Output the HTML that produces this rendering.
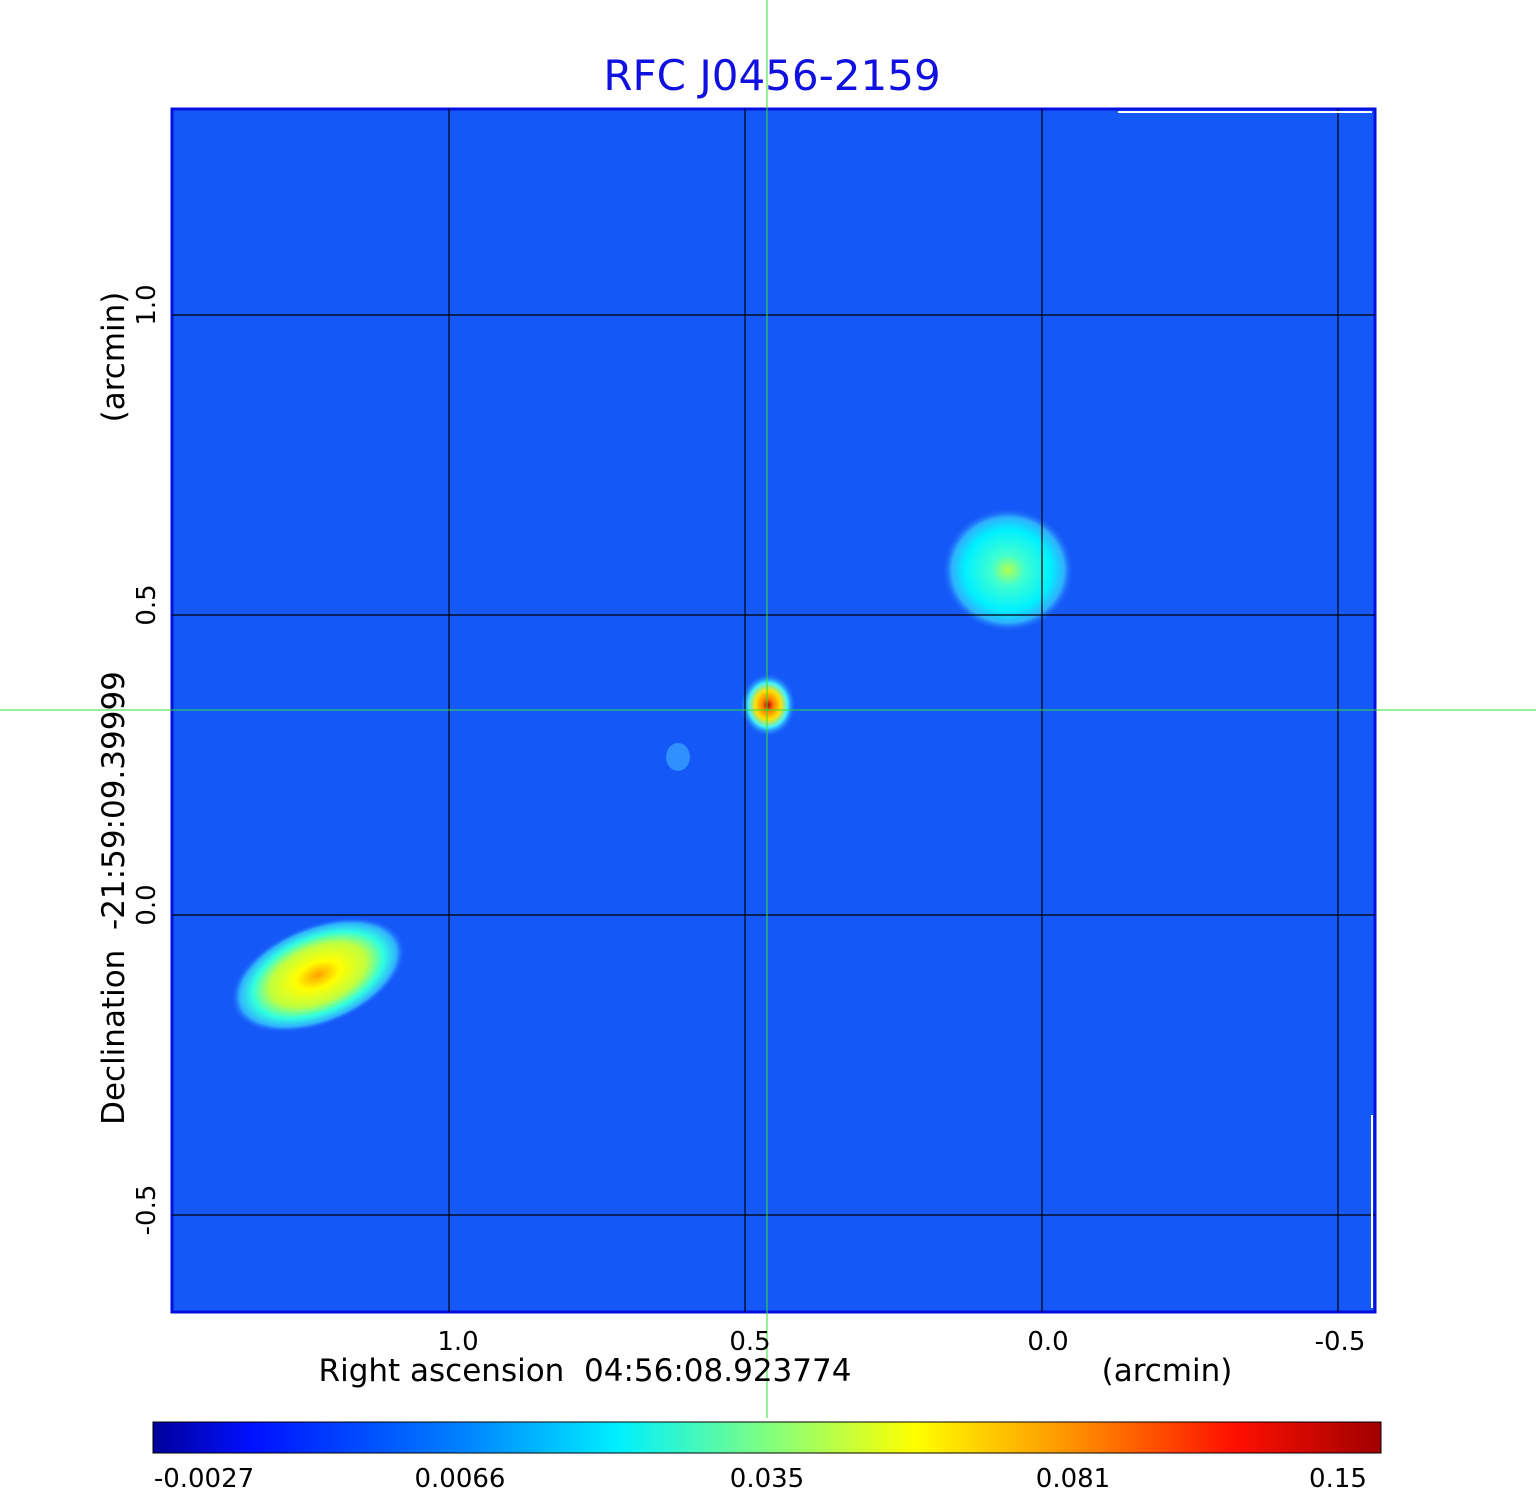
<!DOCTYPE html>
<html><head><meta charset="utf-8"><style>
html,body{margin:0;padding:0;background:#fff;width:1536px;height:1511px;overflow:hidden;font-family:"DejaVu Sans","Liberation Sans",sans-serif;}
.abs{position:absolute}
text{white-space:pre}
</style></head><body>
<div class="abs" style="left:0;top:51px;width:1544px;text-align:center;font-size:42px;color:#1010e0">RFC J0456-2159</div>
<svg class="abs" style="left:0;top:0" width="1536" height="1511" xml:space="preserve">
<defs>
<radialGradient id="ne" cx="0.5" cy="0.5" r="0.5">
<stop offset="0" stop-color="#b0ff50"/><stop offset="0.25" stop-color="#40ffd0"/><stop offset="0.65" stop-color="#00f0ff"/><stop offset="0.85" stop-color="#30b0ff"/><stop offset="1" stop-color="#1558f8" stop-opacity="0"/>
</radialGradient>
<radialGradient id="sw" cx="0.5" cy="0.5" r="0.5">
<stop offset="0" stop-color="#ffa000"/><stop offset="0.25" stop-color="#ffff00"/><stop offset="0.55" stop-color="#c0ff40"/><stop offset="0.75" stop-color="#30ffe0"/><stop offset="0.9" stop-color="#30b0ff"/><stop offset="1" stop-color="#1558f8" stop-opacity="0"/>
</radialGradient>
<radialGradient id="c" cx="0.5" cy="0.5" r="0.5">
<stop offset="0" stop-color="#b00000"/><stop offset="0.2" stop-color="#ff8000"/><stop offset="0.45" stop-color="#ffe000"/><stop offset="0.7" stop-color="#40f0ff"/><stop offset="1" stop-color="#1558f8" stop-opacity="0"/>
</radialGradient>
<linearGradient id="jet" x1="0" x2="1">
<stop offset="0" stop-color="#00009a"/><stop offset="0.08" stop-color="#0010ff"/><stop offset="0.25" stop-color="#0080ff"/><stop offset="0.38" stop-color="#00f0ff"/><stop offset="0.5" stop-color="#80ff80"/><stop offset="0.62" stop-color="#ffff00"/><stop offset="0.75" stop-color="#ff9000"/><stop offset="0.88" stop-color="#ff1000"/><stop offset="1" stop-color="#a00000"/>
</linearGradient>
</defs>
<rect x="172" y="109" width="1203" height="1203" fill="#1558f8" stroke="#0010e0" stroke-width="3"/>
<ellipse cx="1008" cy="570" rx="66" ry="62" fill="url(#ne)"/>
<ellipse cx="318" cy="975" rx="92" ry="50" fill="url(#sw)" transform="rotate(-22 318 975)"/>
<ellipse cx="768" cy="705" rx="28" ry="32" fill="url(#c)"/>
<ellipse cx="678" cy="757" rx="12" ry="14" fill="#3090ff"/>
<g stroke="#000" stroke-width="1.2">
<line x1="449" y1="109" x2="449" y2="1312"/><line x1="745" y1="109" x2="745" y2="1312"/><line x1="1042" y1="109" x2="1042" y2="1312"/><line x1="1338" y1="109" x2="1338" y2="1312"/>
<line x1="172" y1="315" x2="1375" y2="315"/><line x1="172" y1="615" x2="1375" y2="615"/><line x1="172" y1="915" x2="1375" y2="915"/><line x1="172" y1="1215" x2="1375" y2="1215"/>
</g>
<line x1="1118" y1="112" x2="1372" y2="112" stroke="#fff" stroke-width="2"/>
<line x1="1372" y1="1115" x2="1372" y2="1308" stroke="#fff" stroke-width="2"/>
<line x1="767" y1="0" x2="767" y2="1418" stroke="#30e030" stroke-width="1"/>
<line x1="0" y1="710" x2="1536" y2="710" stroke="#30e030" stroke-width="1"/>
<rect x="153" y="1422" width="1228" height="31" fill="url(#jet)" stroke="#000" stroke-width="1"/>
<g font-size="26" fill="#000" text-anchor="middle" font-family="DejaVu Sans, Liberation Sans, sans-serif">
<text x="458" y="1350">1.0</text><text x="750" y="1350">0.5</text><text x="1048" y="1350">0.0</text><text x="1340" y="1350">-0.5</text>
<text x="585" y="1381" font-size="31">Right ascension  04:56:08.923774</text>
<text x="1167" y="1381" font-size="31">(arcmin)</text>
<text x="204" y="1487">-0.0027</text><text x="460" y="1487">0.0066</text><text x="767" y="1487">0.035</text><text x="1073" y="1487">0.081</text><text x="1338" y="1487">0.15</text>
<text transform="translate(155 305) rotate(-90)">1.0</text>
<text transform="translate(155 605) rotate(-90)">0.5</text>
<text transform="translate(155 905) rotate(-90)">0.0</text>
<text transform="translate(155 1210) rotate(-90)">-0.5</text>
<text transform="translate(124 898) rotate(-90)" font-size="31">Declination  -21:59:09.39999</text>
<text transform="translate(124 357) rotate(-90)" font-size="31">(arcmin)</text>
</g>
</svg>
</body></html>
